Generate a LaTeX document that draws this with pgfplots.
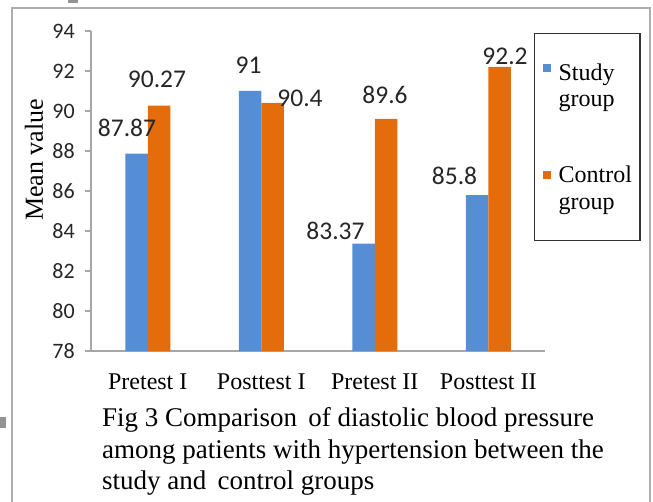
\documentclass[border=0pt]{standalone}
\usepackage{pgfplots}
\pgfplotsset{compat=1.18}
\usepackage{pgfplotstable}
\usepackage{fontspec}
\setmainfont{Liberation Serif}
\newfontfamily\carlito{Carlito}
\definecolor{cblue}{RGB}{85,142,213}
\definecolor{corange}{RGB}{228,108,10}
\definecolor{axgray}{RGB}{166,166,166}
\definecolor{framegray}{RGB}{175,175,175}

\pgfplotstableread{
x y dx dy
0 87.87 -9.5 26
1 91 -1.5 26
2 83.37 -28 12.6
3 85.8 -22.5 19.5
}\studytable
\pgfplotstableread{
x y dx dy
0 90.27 -2 26.6
1 90.4 27.5 5
2 89.6 -1 24.5
3 92.2 5.5 11
}\controltable

\pgfplotsset{
  mylabels/.style={
    nodes near coords,
    visualization depends on={\thisrow{dx} \as \dx},
    visualization depends on={\thisrow{dy} \as \dy},
    every node near coord/.append style={font=\carlito\fontsize{25.5}{28}\selectfont, text=black!85, anchor=center, inner sep=0pt, xshift=\dx*1pt, yshift=\dy*1pt},
  }
}

\begin{document}
\begin{tikzpicture}
\path[use as bounding box] (-91pt,-150pt) rectangle (562pt,351pt);
\begin{axis}[
  at={(0pt,0pt)}, anchor=south west,
  scale only axis, width=454pt, height=320pt,
  xmin=-0.5, xmax=3.5, ymin=78, ymax=94,
  ybar=0pt, bar width=22.5pt,
  axis x line*=bottom, axis y line*=left,
  axis line style={axgray, line width=1.3pt},
  xtick={0,1,2,3},
  xticklabels={Pretest I, Posttest I, Pretest II, Posttest II},
  ytick={78,80,...,94},
  tick align=outside,
  major tick length=6pt,
  ytick style={axgray, line width=1.3pt},
  xtick style={draw=none},
  /pgf/number format/assume math mode=true,
  yticklabel style={font=\carlito\fontsize{22}{24}\selectfont, text=black!85, anchor=east, inner sep=0pt, xshift=-10pt},
  xticklabel style={font=\fontsize{24}{28}\selectfont, anchor=north, inner sep=0pt, yshift=-17pt},
  ylabel={Mean value},
  ylabel style={at={(axis description cs:-0.1256,0.597)}, anchor=center, font=\fontsize{26}{28}\selectfont, inner sep=0pt},
  legend style={at={(axis description cs:0.9758,0.99375)}, anchor=north west,
    draw=black!80, line width=1.2pt, inner xsep=8pt, inner ysep=20.5pt,
    row sep=0pt, column sep=8pt, font=\fontsize{24}{28}\selectfont,
    cells={anchor=west},
    nodes={inner sep=0pt, text height=18pt, text depth=8.5pt}},
  every axis plot post/.append style={legend image code/.code={\fill[##1] (2pt,-1pt) rectangle (10pt,7pt);}},
]
\addplot[fill=cblue, draw=none, mylabels] table[x=x,y=y] {\studytable};
\addlegendentry[text height=26pt]{Study}
\addlegendimage{fill=white,draw=none}
\addlegendentry[text depth=58pt]{group}
\addplot[fill=corange, draw=none, mylabels] table[x=x,y=y] {\controltable};
\addlegendentry{Control}
\addlegendimage{fill=white,draw=none}
\addlegendentry[text depth=11pt]{group}
\end{axis}
\draw[framegray, line width=2pt] (-79pt,-152pt) -- (-79pt,343pt) -- (559pt,343pt) -- (559pt,-152pt);
\fill[gray!85] (-23pt,348pt) rectangle (-13pt,352pt);
\fill[gray!85] (-92pt,-66pt) rectangle (-85pt,-77pt);
\node[anchor=base west, inner sep=0pt, font=\fontsize{27}{32}\selectfont] at (11pt,-75pt) {Fig 3 Comparison\, of diastolic blood pressure};
\node[anchor=base west, inner sep=0pt, font=\fontsize{27}{32}\selectfont] at (11pt,-107pt) {among patients with hypertension between the};
\node[anchor=base west, inner sep=0pt, font=\fontsize{27}{32}\selectfont] at (11pt,-138pt) {study and\, control groups};
\end{tikzpicture}
\end{document}
